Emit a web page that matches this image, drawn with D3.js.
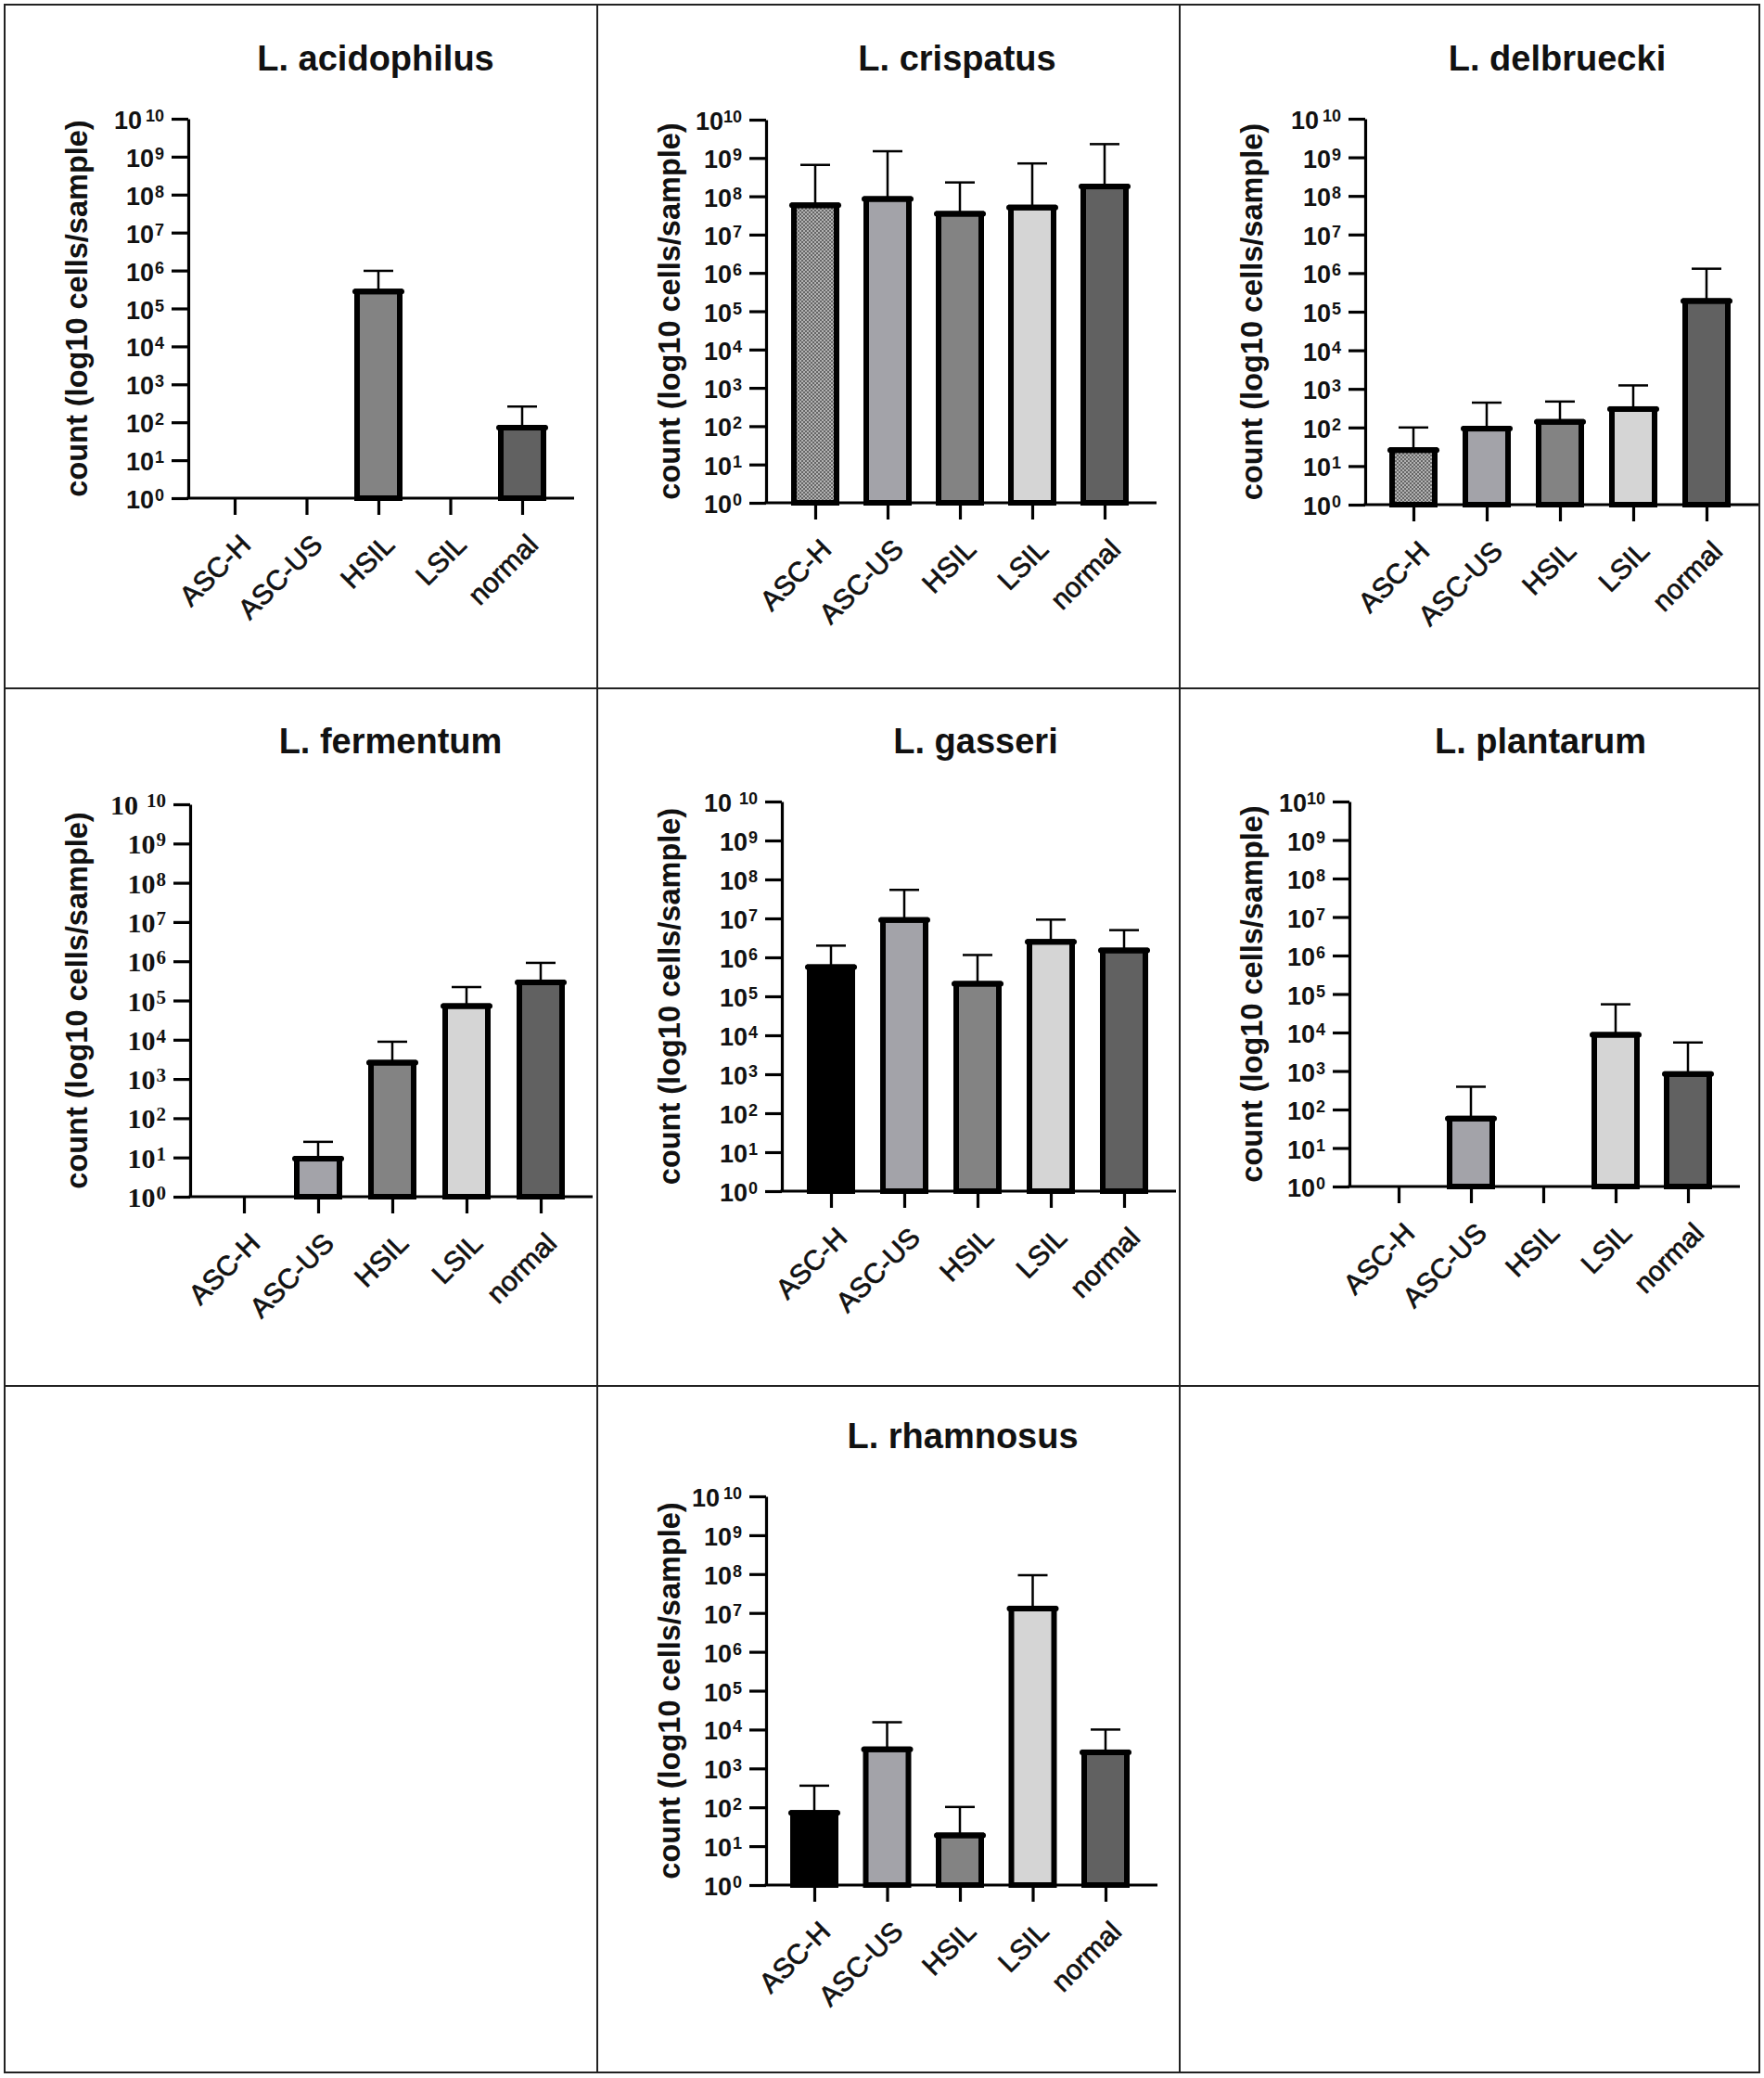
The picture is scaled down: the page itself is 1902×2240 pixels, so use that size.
<!DOCTYPE html>
<html>
<head>
<meta charset="utf-8">
<script src="https://cdn.jsdelivr.net/npm/d3@7"></script>
<style>
  body { margin: 0; background: #fff; }
  svg { display: block; }
</style>
</head>
<body>
<svg id="chart" width="1902" height="2240"></svg>
<script>
// ---------------- DATA ----------------
const categories = ["ASC-H", "ASC-US", "HSIL", "LSIL", "normal"];
const speciesNames = ["L. acidophilus", "L. crispatus", "L. delbruecki", "L. fermentum", "L. gasseri", "L. plantarum", "L. rhamnosus"];

// mean counts (cells/sample); null = no bar
const acidophilusMean  = [null, null, 2.8e5, null, 72];
const acidophilusUpper = [null, null, 9.8e5, null, 260];

const crispatusMean  = [5.8e7, 8.5e7, 3.5e7, 5.1e7, 1.8e8];
const crispatusUpper = [6.6e8, 1.5e9, 2.3e8, 7.2e8, 2.3e9];

const delbrueckiMean  = [26, 93, 140, 300, 1.9e5];
const delbrueckiUpper = [100, 440, 470, 1230, 1.3e6];

const fermentumMean  = [null, 9.3, 2.6e3, 7.2e4, 2.9e5];
const fermentumUpper = [null, 25, 8.9e3, 2.2e5, 9.1e5];

const gasseriMean  = [5.6e5, 9.1e6, 2.1e5, 2.5e6, 1.5e6];
const gasseriUpper = [2.0e6, 5.4e7, 1.15e6, 9.3e6, 5.0e6];

const plantarumMean  = [null, 58, null, 8.7e3, 830];
const plantarumUpper = [null, 390, null, 5.4e4, 5.5e3];

const rhamnosusMean  = [72, 3.1e3, 19, 1.3e7, 2.6e3];
const rhamnosusUpper = [360, 1.55e4, 102, 9.3e7, 1.0e4];

const meanSeries  = [acidophilusMean, crispatusMean, delbrueckiMean, fermentumMean, gasseriMean, plantarumMean, rhamnosusMean];
const upperSeries = [acidophilusUpper, crispatusUpper, delbrueckiUpper, fermentumUpper, gasseriUpper, plantarumUpper, rhamnosusUpper];

const yTickExponents = [0, 1, 2, 3, 4, 5, 6, 7, 8, 9, 10];
const yAxisTitle = "count (log10 cells/sample)";

// ---------------- STYLE / LAYOUT ----------------
const catFill = ["#000000", "#a3a3a9", "#838383", "#d5d5d5", "#616161"];
// ASC-H fill style per panel
const ascHStyle = ["solid", "pattern", "pattern", "solid", "solid", "solid", "solid"];

const cellX = [5, 644, 1272];
const layout = [
  { col: 0, x0: 203,  yTop: 128,  yBot: 537,  tick0: 50, step: 77.5, titleX: 405,  titleY: 76,   serif: false, gap: 4 },
  { col: 1, x0: 826,  yTop: 129,  yBot: 542,  tick0: 53, step: 78,   titleX: 1032, titleY: 76,   serif: false, gap: 0 },
  { col: 2, x0: 1472, yTop: 128,  yBot: 544,  tick0: 52, step: 79,   titleX: 1679, titleY: 76,   serif: false, gap: 4 },
  { col: 0, x0: 205,  yTop: 867,  yBot: 1290, tick0: 58, step: 80,   titleX: 421,  titleY: 812,  serif: true,  gap: 9 },
  { col: 1, x0: 843,  yTop: 864,  yBot: 1284, tick0: 53, step: 79,   titleX: 1052, titleY: 812,  serif: false, gap: 8 },
  { col: 2, x0: 1455, yTop: 864,  yBot: 1279, tick0: 53, step: 78,   titleX: 1661, titleY: 812,  serif: false, gap: 0 },
  { col: 1, x0: 826,  yTop: 1613, yBot: 2032, tick0: 52, step: 78.5, titleX: 1038, titleY: 1561, serif: false, gap: 4 }
];

const SANS = "'Liberation Sans', Arial, Helvetica, sans-serif";
const SERIF = "'Liberation Serif', 'Times New Roman', serif";

const svg = d3.select("#chart");
svg.append("rect").attr("width", 1902).attr("height", 2240).attr("fill", "#fff");

// checker pattern for ASC-H
const defs = svg.append("defs");
const pat = defs.append("pattern").attr("id", "checker")
  .attr("patternUnits", "userSpaceOnUse").attr("width", 4).attr("height", 4);
pat.append("rect").attr("width", 4).attr("height", 4).attr("fill", "#b2b2b2");
pat.append("rect").attr("width", 2).attr("height", 2).attr("fill", "#666");
pat.append("rect").attr("x", 2).attr("y", 2).attr("width", 2).attr("height", 2).attr("fill", "#666");

// table grid
const grid = svg.append("g").attr("stroke", "#222").attr("stroke-width", 2).attr("fill", "none");
grid.append("rect").attr("x", 5).attr("y", 5).attr("width", 1892).attr("height", 2229);
[644, 1272].forEach(x => grid.append("line").attr("x1", x).attr("x2", x).attr("y1", 5).attr("y2", 2234));
[742, 1494].forEach(y => grid.append("line").attr("x1", 5).attr("x2", 1897).attr("y1", y).attr("y2", y));

speciesNames.forEach((name, i) => {
  const L = layout[i];
  const g = svg.append("g");
  const y = d3.scaleLog().domain([1, 1e10]).range([L.yBot, L.yTop]);
  const x = d3.scalePoint().domain(categories).range([L.x0 + L.tick0, L.x0 + L.tick0 + 4 * L.step]);
  const axisEnd = L.x0 + L.tick0 + 4 * L.step + 56;

  // title
  g.append("text").attr("x", L.titleX).attr("y", L.titleY)
    .attr("text-anchor", "middle").attr("font-family", SANS).attr("font-weight", "bold")
    .attr("font-size", 38).attr("fill", "#111").text(name);

  // y-axis title
  g.append("text")
    .attr("transform", `translate(${cellX[L.col] + 89},${(L.yTop + L.yBot) / 2}) rotate(-90)`)
    .attr("text-anchor", "middle").attr("font-family", SANS).attr("font-weight", "bold")
    .attr("font-size", 32.5).attr("fill", "#111").text(yAxisTitle);

  // y axis
  const yAxis = d3.axisLeft(y).tickValues(yTickExponents.map(e => Math.pow(10, e)))
    .tickSize(18).tickSizeOuter(0).tickFormat("");
  const ya = g.append("g").attr("transform", `translate(${L.x0},0)`).call(yAxis);
  ya.select(".domain").attr("stroke", "#000").attr("stroke-width", 3.2);
  ya.selectAll(".tick line").attr("stroke", "#000").attr("stroke-width", 3.2);

  // y tick labels (10^n)
  const font = L.serif ? SERIF : SANS;
  yTickExponents.forEach(e => {
    const t = g.append("text")
      .attr("x", L.x0 - 26).attr("y", y(Math.pow(10, e)) + 11)
      .attr("text-anchor", "end").attr("font-family", font)
      .attr("font-weight", "bold").attr("fill", "#111");
    t.append("tspan").attr("font-size", L.serif ? 30 : 27).text("10");
    t.append("tspan").attr("font-size", L.serif ? 21 : 18)
      .attr("dx", e === 10 ? L.gap : 1).attr("dy", -8).text(e);
  });

  // x axis
  const xAxis = d3.axisBottom(x).tickSize(18).tickSizeOuter(0).tickFormat("");
  const xa = g.append("g").attr("transform", `translate(0,${L.yBot})`).call(xAxis);
  xa.select(".domain").remove();
  xa.selectAll(".tick line").attr("stroke", "#000").attr("stroke-width", 3.2);
  g.append("line").attr("x1", L.x0 - 1.6).attr("x2", axisEnd)
    .attr("y1", L.yBot).attr("y2", L.yBot).attr("stroke", "#000").attr("stroke-width", 3.2);

  // x labels
  categories.forEach(c => {
    g.append("text")
      .attr("transform", `translate(${x(c) + 19},${L.yBot + 52}) rotate(-45)`)
      .attr("text-anchor", "end").attr("font-family", SANS)
      .attr("font-size", 30).attr("fill", "#111")
      .attr("stroke", "#111").attr("stroke-width", 0.7).text(c);
  });

  // bars + error bars
  const means = meanSeries[i], uppers = upperSeries[i];
  const barW = 46, capHalf = 16;
  categories.forEach((c, k) => {
    const v = means[k];
    if (v == null) return;
    const xc = x(c);
    const up = uppers[k];
    // error bar (drawn first)
    g.append("line").attr("x1", xc).attr("x2", xc).attr("y1", y(v)).attr("y2", y(up))
      .attr("stroke", "#000").attr("stroke-width", 2.5);
    g.append("line").attr("x1", xc - capHalf).attr("x2", xc + capHalf).attr("y1", y(up)).attr("y2", y(up))
      .attr("stroke", "#000").attr("stroke-width", 2.5);
    let fill = catFill[k];
    if (k === 0 && ascHStyle[i] === "pattern") fill = "url(#checker)";
    g.append("rect").attr("x", xc - barW / 2).attr("y", y(v))
      .attr("width", barW).attr("height", L.yBot - y(v))
      .attr("fill", fill).attr("stroke", "#000").attr("stroke-width", 6);
    g.append("line").attr("x1", xc - barW / 2 - 2).attr("x2", xc + barW / 2 + 2)
      .attr("y1", y(v)).attr("y2", y(v))
      .attr("stroke", "#000").attr("stroke-width", 6).attr("stroke-linecap", "round");
  });
});
</script>
</body>
</html>
